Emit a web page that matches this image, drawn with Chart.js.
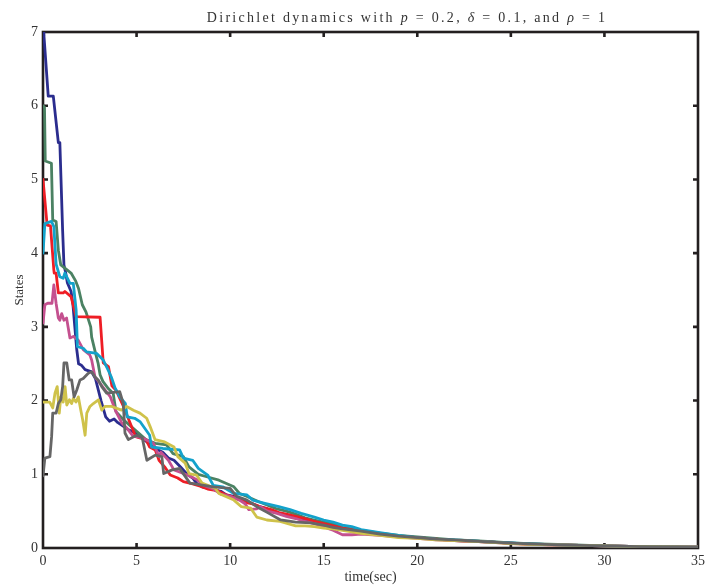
<!DOCTYPE html>
<html>
<head>
<meta charset="utf-8">
<script src="https://cdn.jsdelivr.net/npm/chart.js@4.4.1/dist/chart.umd.min.js"></script>
<style>
  html, body { margin: 0; padding: 0; background: #ffffff; }
  canvas { display: block; }
</style>
</head>
<body>
<canvas id="chart" width="706" height="588"></canvas>
<script>
// Axis ticks
const xTicks = [0, 5, 10, 15, 20, 25, 30, 35];
const yTicks = [0, 1, 2, 3, 4, 5, 6, 7];

// Agent states over time, [time (s), state]
const seriesNavy = [[0,7],[0.05,6.95],[0.28,6.13],[0.55,6.13],[0.82,5.5],[0.9,5.5],[1.05,4.3],[1.12,3.84],[1.2,3.75],[1.3,3.6],[1.5,3.48],[1.6,3.3],[1.7,3.0],[1.8,2.7],[1.9,2.5],[2.05,2.48],[2.25,2.42],[2.6,2.39],[2.8,2.3],[2.9,2.2],[3.1,2.0],[3.35,1.78],[3.55,1.72],[3.8,1.75],[4.0,1.7],[4.3,1.65],[4.6,1.6],[5.0,1.55],[5.5,1.45],[6.0,1.35],[6.4,1.3],[6.7,1.22],[7.0,1.19],[7.35,1.1],[7.7,1.0],[8.0,0.95],[8.2,0.88],[8.5,0.83],[9.0,0.8],[9.5,0.77],[9.8,0.72],[10.2,0.7],[10.5,0.66],[11,0.62],[11.5,0.57],[12,0.53],[12.5,0.48],[13,0.45],[13.5,0.41],[14,0.37],[14.5,0.34],[15,0.31],[15.5,0.29],[16,0.26],[17,0.22],[18,0.19],[19,0.16],[20,0.14],[21,0.12],[22,0.1],[23,0.09],[24,0.08],[25,0.065],[26,0.055],[28,0.04],[30,0.03],[32,0.02],[35,0.012]];
const seriesGreen = [[0,6.0],[0.08,5.98],[0.12,5.25],[0.45,5.22],[0.52,4.45],[0.7,4.43],[0.82,4.04],[0.95,3.84],[1.25,3.78],[1.5,3.73],[1.75,3.62],[1.9,3.52],[2.1,3.3],[2.3,3.2],[2.55,3.0],[2.6,2.86],[2.8,2.65],[2.95,2.5],[3.05,2.35],[3.2,2.26],[3.5,2.16],[3.75,2.1],[3.9,1.85],[4.3,1.74],[4.7,1.65],[5.5,1.47],[6.0,1.42],[6.6,1.4],[6.95,1.28],[7.5,1.24],[7.8,1.1],[8.3,1.0],[8.7,0.97],[9.4,0.92],[10.2,0.83],[10.5,0.74],[10.9,0.7],[11.5,0.63],[12.0,0.58],[12.5,0.53],[13,0.5],[13.5,0.46],[14,0.41],[14.5,0.38],[15,0.35],[15.5,0.32],[16,0.28],[17,0.24],[18,0.2],[19,0.17],[20,0.15],[21,0.13],[22,0.11],[23,0.1],[24,0.085],[25,0.07],[26,0.06],[28,0.045],[30,0.03],[32,0.02],[35,0.012]];
const seriesRed = [[0,5.0],[0.22,4.38],[0.4,4.37],[0.58,3.77],[0.6,3.73],[0.7,3.73],[0.82,3.46],[1.08,3.46],[1.17,3.48],[1.5,3.41],[1.77,3.14],[3.05,3.13],[3.22,2.51],[3.5,2.46],[3.68,2.2],[3.9,2.14],[4.3,1.92],[4.65,1.7],[4.95,1.51],[5.5,1.47],[5.7,1.37],[6.0,1.33],[6.2,1.19],[6.5,1.1],[6.8,0.99],[7.2,0.95],[7.5,0.9],[8.0,0.87],[8.4,0.84],[8.8,0.8],[9.3,0.78],[9.8,0.72],[10.3,0.68],[10.8,0.62],[11.2,0.6],[11.7,0.55],[12.2,0.52],[12.6,0.48],[13,0.46],[13.5,0.43],[14,0.4],[14.5,0.36],[15,0.33],[15.5,0.3],[16,0.27],[17,0.23],[18,0.19],[19,0.16],[20,0.14],[21,0.12],[22,0.1],[23,0.09],[24,0.08],[25,0.065],[26,0.05],[28,0.04],[30,0.03],[32,0.02],[35,0.012]];
const seriesCyan = [[0,4.0],[0.1,4.4],[0.45,4.43],[0.58,4.36],[0.7,3.85],[0.9,3.68],[1.08,3.66],[1.17,3.73],[1.44,3.59],[1.62,3.59],[1.77,3.23],[1.84,2.73],[2.15,2.71],[2.33,2.66],[2.87,2.64],[3.22,2.55],[3.49,2.41],[3.65,2.32],[3.85,2.17],[4.0,2.1],[4.1,2.05],[4.4,1.96],[4.5,1.78],[4.9,1.76],[5.2,1.71],[5.7,1.53],[5.8,1.37],[6.4,1.35],[7.3,1.33],[7.5,1.22],[8.0,1.19],[8.3,1.08],[8.8,0.99],[9.1,0.85],[9.6,0.83],[10.2,0.74],[10.9,0.72],[11.2,0.65],[11.8,0.61],[12.6,0.56],[13.2,0.52],[13.8,0.47],[14.5,0.42],[15,0.38],[15.5,0.35],[16,0.31],[16.5,0.29],[17,0.25],[18,0.21],[19,0.17],[20,0.14],[21,0.12],[22,0.11],[23,0.095],[24,0.08],[25,0.07],[26,0.055],[28,0.04],[30,0.03],[32,0.02],[35,0.012]];
const seriesMagenta = [[0,3.05],[0.1,3.3],[0.25,3.32],[0.48,3.32],[0.58,3.57],[0.7,3.32],[0.82,3.12],[0.9,3.09],[1.0,3.18],[1.12,3.09],[1.26,3.12],[1.44,2.85],[1.62,2.87],[1.88,2.82],[2.15,2.69],[2.5,2.62],[2.6,2.55],[2.78,2.32],[3.0,2.25],[3.3,2.15],[3.6,2.05],[3.9,1.85],[4.2,1.7],[4.5,1.62],[4.8,1.52],[5.2,1.5],[5.5,1.47],[5.9,1.42],[6.2,1.24],[6.3,1.3],[6.7,1.19],[7.0,1.06],[7.4,1.02],[7.8,0.98],[8.2,0.93],[8.6,0.85],[9.1,0.8],[9.5,0.73],[10,0.7],[10.5,0.65],[10.8,0.6],[11.0,0.52],[11.4,0.53],[11.6,0.56],[12.0,0.5],[12.5,0.47],[13,0.43],[13.5,0.4],[14,0.36],[14.5,0.33],[15,0.29],[15.3,0.26],[15.5,0.24],[16,0.18],[16.5,0.18],[17,0.19],[18,0.17],[19,0.15],[20,0.13],[21,0.11],[22,0.1],[23,0.09],[24,0.075],[25,0.06],[26,0.05],[28,0.04],[30,0.03],[32,0.02],[35,0.012]];
const seriesGray = [[0,0.98],[0.1,1.22],[0.37,1.24],[0.46,1.51],[0.52,1.83],[0.7,1.83],[0.82,1.96],[0.95,2.01],[1.05,2.19],[1.12,2.51],[1.27,2.51],[1.4,2.28],[1.53,2.28],[1.66,2.05],[1.8,2.14],[1.98,2.28],[2.15,2.3],[2.42,2.37],[2.6,2.39],[2.78,2.32],[2.95,2.28],[3.14,2.19],[3.4,2.1],[4.1,2.12],[4.29,1.96],[4.38,1.56],[4.56,1.47],[5.0,1.53],[5.3,1.5],[5.55,1.19],[6.0,1.26],[6.35,1.24],[6.45,1.01],[6.9,1.06],[7.3,1.08],[7.85,0.88],[9.1,0.83],[10.0,0.81],[10.35,0.7],[10.9,0.65],[11.5,0.55],[12.0,0.48],[12.7,0.38],[13.5,0.35],[14.3,0.34],[15,0.31],[15.5,0.28],[16,0.26],[17,0.23],[18,0.19],[19,0.16],[20,0.14],[21,0.12],[22,0.11],[23,0.095],[24,0.08],[25,0.065],[26,0.055],[28,0.04],[30,0.03],[32,0.02],[35,0.012]];
const seriesYellow = [[0,1.98],[0.36,1.98],[0.52,1.9],[0.64,2.1],[0.76,2.19],[0.87,1.83],[0.95,2.05],[1.08,1.98],[1.18,2.19],[1.27,1.94],[1.41,2.01],[1.53,1.96],[1.62,2.03],[1.76,1.98],[1.89,2.05],[2.02,1.87],[2.12,1.74],[2.25,1.53],[2.34,1.83],[2.51,1.92],[2.69,1.96],[2.96,2.01],[3.14,1.87],[3.31,1.92],[3.67,1.92],[4.2,1.87],[4.47,1.92],[4.83,1.87],[5.18,1.83],[5.54,1.76],[5.72,1.65],[5.99,1.47],[6.5,1.44],[7.0,1.37],[7.2,1.24],[7.6,1.15],[7.8,1.01],[8.2,0.99],[8.5,0.88],[9.2,0.81],[9.4,0.74],[10.2,0.65],[10.6,0.56],[11.1,0.54],[11.42,0.42],[11.96,0.38],[12.67,0.36],[13.5,0.3],[14,0.3],[14.5,0.29],[15,0.27],[15.5,0.26],[16,0.24],[17,0.2],[18,0.17],[19,0.14],[20,0.13],[21,0.11],[22,0.1],[23,0.09],[24,0.075],[25,0.06],[26,0.05],[28,0.04],[30,0.03],[32,0.02],[35,0.012]];

const SERIF = '"Liberation Serif", "DejaVu Serif", serif';
const INK = '#231f20';

const toXY = pts => pts.map(p => ({ x: p[0], y: p[1] }));
const line = (data, color) => ({
  data: toXY(data),
  borderColor: color,
  borderWidth: 2.8,
  pointRadius: 0,
  tension: 0,
  fill: false,
  borderJoinStyle: 'round',
  borderCapStyle: 'round'
});

// Box frame with inward tick marks on all four sides
const framePlugin = {
  id: 'frame',
  beforeDatasetsDraw(chart) {
    const { ctx, chartArea: a, scales: { x, y } } = chart;
    ctx.save();
    ctx.strokeStyle = INK;
    ctx.lineWidth = 2.6;
    ctx.strokeRect(a.left, a.top, a.right - a.left, a.bottom - a.top);
    const len = 5;
    ctx.beginPath();
    xTicks.slice(1, -1).forEach(v => {
      const px = x.getPixelForValue(v);
      ctx.moveTo(px, a.bottom); ctx.lineTo(px, a.bottom - len);
      ctx.moveTo(px, a.top); ctx.lineTo(px, a.top + len);
    });
    yTicks.slice(1, -1).forEach(v => {
      const py = y.getPixelForValue(v);
      ctx.moveTo(a.left, py); ctx.lineTo(a.left + len, py);
      ctx.moveTo(a.right, py); ctx.lineTo(a.right - len, py);
    });
    ctx.stroke();
    ctx.restore();
  }
};

// Title with italic math symbols and wide letter spacing
const titleParts = [
  ['Dirichlet ', false],
  ['dynamics with ', false], ['p', true], [' = 0.2, ', false],
  ['\u03B4', true], [' = 0.1, and ', false], ['\u03C1', true], [' = 1', false]
];
const titlePlugin = {
  id: 'mathTitle',
  afterDraw(chart) {
    const { ctx } = chart;
    const size = 14;
    const fontFor = it => (it ? 'italic ' : '') + size + 'px ' + SERIF;
    ctx.save();
    ctx.fillStyle = '#333333';
    ctx.textBaseline = 'alphabetic';
    const chars = [];
    titleParts.forEach(([txt, it], i) => {
      for (const ch of txt) chars.push({ ch, it, head: i === 0 });
    });
    chars.forEach(c => { ctx.font = fontFor(c.it); c.w = ctx.measureText(c.ch).width; });
    const tail = chars.filter(c => !c.head);
    const head = chars.filter(c => c.head);
    const tailStart = 283, tailEnd = 605;
    const natural = tail.reduce((s, c) => s + c.w, 0);
    const ls = (tailEnd - tailStart - natural) / (tail.length - 1);
    const headW = head.reduce((s, c) => s + c.w + ls, 0);
    let xPos = tailStart - headW;
    const yPos = 22;
    chars.forEach(c => {
      ctx.font = fontFor(c.it);
      ctx.fillText(c.ch, xPos, yPos);
      xPos += c.w + ls;
    });
    ctx.restore();
  }
};

new Chart(document.getElementById('chart'), {
  type: 'line',
  data: {
    datasets: [
      line(seriesGray, '#666666'),
      line(seriesYellow, '#cfc24a'),
      line(seriesCyan, '#13a2cb'),
      line(seriesMagenta, '#c4508f'),
      line(seriesRed, '#ee1d25'),
      line(seriesGreen, '#4b8263'),
      line(seriesNavy, '#2b2d8e')
    ]
  },
  options: {
    responsive: false,
    animation: false,
    devicePixelRatio: 1,
    layout: { padding: { top: 32, right: 8, left: 0, bottom: 0 } },
    plugins: { legend: { display: false }, tooltip: { enabled: false }, title: { display: false } },
    scales: {
      x: {
        type: 'linear',
        min: 0, max: 35,
        afterBuildTicks: s => { s.ticks = xTicks.map(v => ({ value: v })); },
        afterFit: s => { s.height = 40; s.paddingLeft = 0; s.paddingRight = 0; },
        grid: { display: false, drawTicks: false },
        border: { display: false },
        ticks: { color: '#333333', padding: 5, maxRotation: 0, font: { family: SERIF, size: 14 } },
        title: { display: true, text: 'time(sec)', color: '#333333', padding: { top: 0, bottom: 2 }, font: { family: SERIF, size: 14 } }
      },
      y: {
        type: 'linear',
        min: 0, max: 7,
        afterBuildTicks: s => { s.ticks = yTicks.map(v => ({ value: v })); },
        afterFit: s => { s.width = 43; s.paddingTop = 0; s.paddingBottom = 0; },
        grid: { display: false, drawTicks: false },
        border: { display: false },
        ticks: { color: '#333333', padding: 5, font: { family: SERIF, size: 14 } },
        title: { display: true, text: 'States', color: '#333333', padding: { top: 12, bottom: 0 }, font: { family: SERIF, size: 13 } }
      }
    }
  },
  plugins: [framePlugin, titlePlugin]
});
</script>
</body>
</html>
